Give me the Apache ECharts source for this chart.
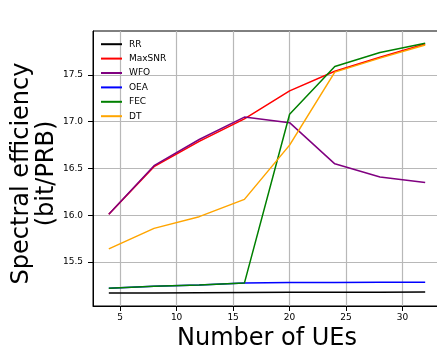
<!DOCTYPE html>
<html>
<head>
<meta charset="utf-8">
<script src="https://cdn.jsdelivr.net/npm/echarts@6/dist/echarts.min.js"></script>
<style>
  html, body { margin: 0; padding: 0; background: #fff; }
  #chart { width: 437px; height: 354px; }
</style>
</head>
<body>
<div id="chart"></div>
<script>
// Number of UEs on the x axis
const ues = [4, 8, 12, 16, 20, 24, 28, 32];

// Spectral efficiency (bit/PRB) per scheduler
const rr     = [15.170, 15.170, 15.172, 15.174, 15.176, 15.177, 15.178, 15.179];
const maxSNR = [16.01, 16.52, 16.79, 17.03, 17.33, 17.54, 17.69, 17.83];
const wfo    = [16.01, 16.53, 16.81, 17.05, 16.99, 16.55, 16.41, 16.35];
const oea    = [15.22, 15.24, 15.255, 15.275, 15.28, 15.28, 15.285, 15.285];
const fec    = [15.22, 15.24, 15.255, 15.275, 17.08, 17.59, 17.74, 17.84];
const dt     = [15.64, 15.86, 15.985, 16.17, 16.75, 17.53, 17.68, 17.82];

// Tick labels
const xTicks = [5, 10, 15, 20, 25, 30];
const yTicks = [15.5, 16.0, 16.5, 17.0, 17.5];

const seriesDefs = [
  { name: 'RR', data: rr, color: '#000000' },
  { name: 'MaxSNR', data: maxSNR, color: '#ff0000' },
  { name: 'WFO', data: wfo, color: '#800080' },
  { name: 'OEA', data: oea, color: '#0000ff' },
  { name: 'FEC', data: fec, color: '#008000' },
  { name: 'DT', data: dt, color: '#ffa500' }
];

const font = 'DejaVu Sans';
const chart = echarts.init(document.getElementById('chart'), null, { renderer: 'canvas' });

chart.setOption({
  animation: false,
  backgroundColor: '#ffffff',
  grid: {
    left: 93, top: 31, width: 348, height: 275,
    outerBoundsMode: 'none',
    containLabel: false,
    show: true, borderColor: '#000000', borderWidth: 1, backgroundColor: 'transparent'
  },
  legend: {
    orient: 'vertical',
    left: 96, top: 34,
    itemWidth: 21, itemHeight: 2, itemGap: 4,
    icon: 'rect',
    textStyle: { fontFamily: font, fontSize: 9, color: '#000', lineHeight: 10.4, padding: [0, 0, 0, 2] },
    data: seriesDefs.map(s => s.name)
  },
  xAxis: {
    type: 'value',
    min: 2.6, max: 33.4,
    name: 'Number of UEs',
    nameLocation: 'middle',
    nameGap: 16,
    nameTextStyle: { fontFamily: font, fontSize: 24, color: '#000', verticalAlign: 'top' },
    axisLine: { show: true, lineStyle: { color: '#000', width: 1 } },
    axisTick: { show: true, customValues: xTicks, length: 5, lineStyle: { color: '#000' } },
    axisLabel: { customValues: xTicks, fontFamily: font, fontSize: 9, color: '#000', margin: 7 },
    splitLine: { show: true, customValues: xTicks, lineStyle: { color: '#b8b8b8', width: 1.2 } }
  },
  yAxis: {
    type: 'value',
    min: 15.03, max: 17.97,
    name: 'Spectral efficiency\n(bit/PRB)',
    nameLocation: 'middle',
    nameGap: 34,
    nameMoveOverlap: false,
    nameTextStyle: { fontFamily: font, fontSize: 24, color: '#000', lineHeight: 25, padding: [0, 10, 0, 0] },
    axisLine: { show: true, lineStyle: { color: '#000', width: 1 } },
    axisTick: { show: true, customValues: yTicks, length: 5, lineStyle: { color: '#000' } },
    axisLabel: { customValues: yTicks, fontFamily: font, fontSize: 9, color: '#000', margin: 10,
                 formatter: v => v.toFixed(1) },
    splitLine: { show: true, customValues: yTicks, lineStyle: { color: '#b8b8b8', width: 1.2 } }
  },
  series: seriesDefs.map(s => ({
    name: s.name,
    type: 'line',
    data: ues.map((u, i) => [u, s.data[i]]),
    showSymbol: false,
    symbol: 'none',
    lineStyle: { color: s.color, width: 1.5 },
    itemStyle: { color: s.color }
  }))
});
</script>
</body>
</html>
